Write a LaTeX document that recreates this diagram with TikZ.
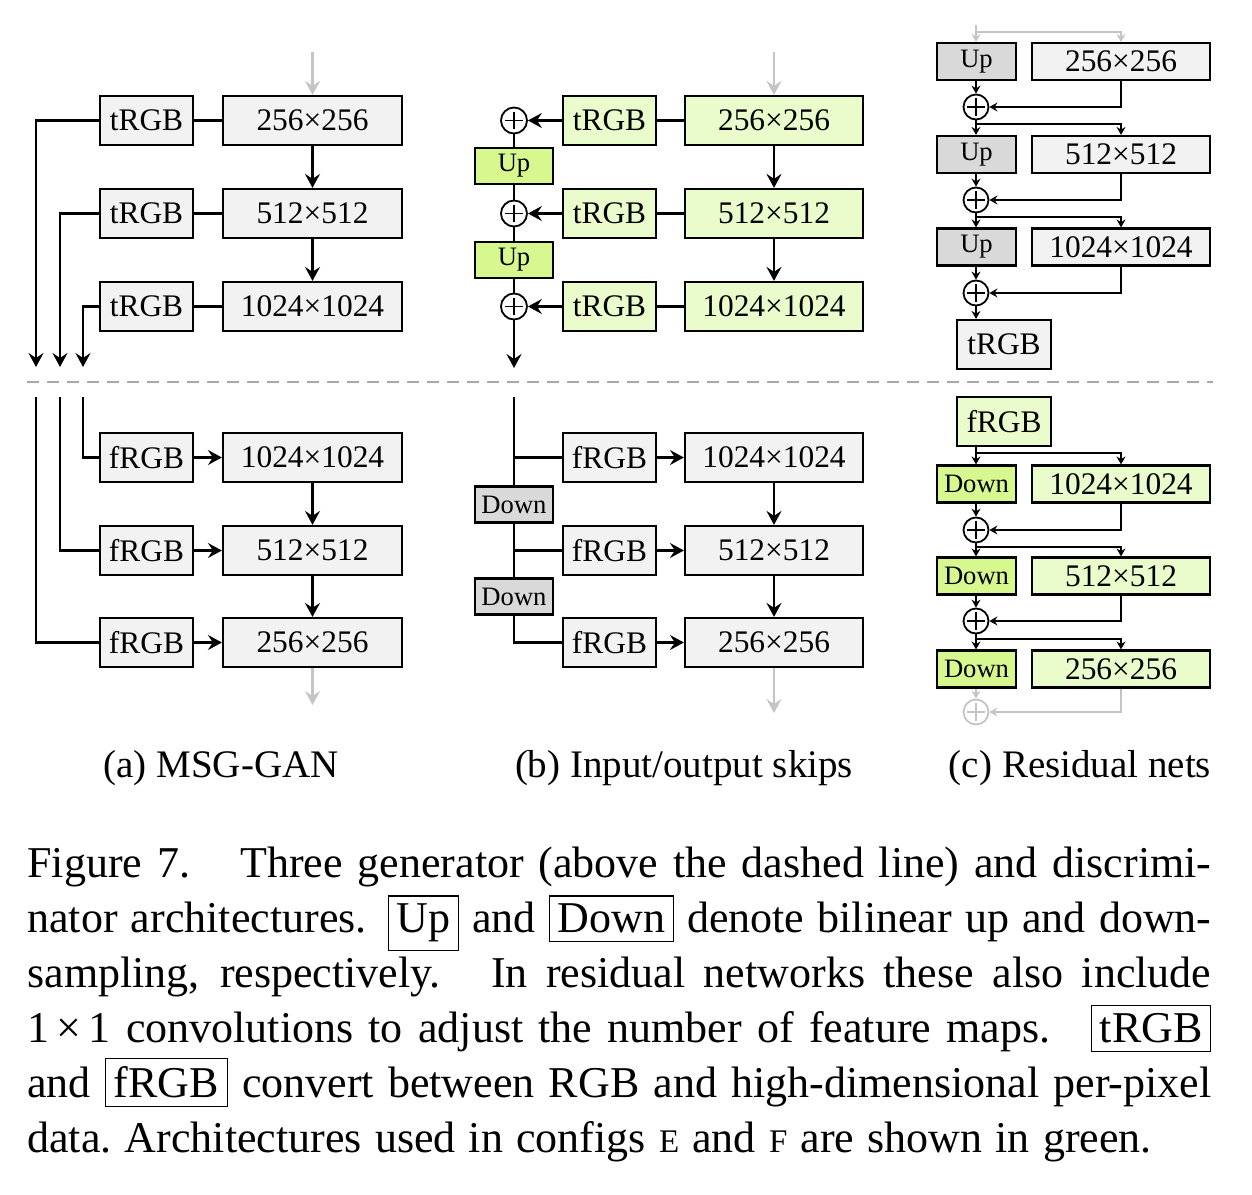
\documentclass[tikz,border=0pt]{standalone}
\usepackage{fontspec}
\setmainfont{Liberation Serif}
\usetikzlibrary{arrows.meta,calc}
\definecolor{lgray}{RGB}{242,242,242}
\definecolor{dgray}{RGB}{217,217,217}
\definecolor{lgreen}{RGB}{234,252,204}
\definecolor{dgreen}{RGB}{214,248,142}
\definecolor{tgray}{RGB}{196,196,196}
\definecolor{dashgray}{RGB}{168,168,168}
\begin{document}
\begin{tikzpicture}[x=0.5pt,y=-0.5pt,
  base/.style={draw, line width=1.1pt, inner sep=0pt, font=\fontsize{15.7}{18}\selectfont},
  bigbox/.style={base, minimum width=89.5pt, minimum height=24.5pt},
  rgbbox/.style={base, minimum width=46.5pt, minimum height=24.5pt},
  smallbox/.style={base, minimum width=39pt, minimum height=18pt, font=\fontsize{13.3}{15}\selectfont},
  cbig/.style={base, minimum width=89pt, minimum height=18.5pt},
  csmall/.style={base, minimum width=39.5pt, minimum height=18.5pt, font=\fontsize{13.3}{15}\selectfont},
  oplus/.style={circle, draw, line width=0.9pt, inner sep=0pt, minimum size=13pt, fill=white,
    path picture={\draw[line width=0.8pt]
      ([yshift=4.3pt]path picture bounding box.center) -- ([yshift=-4.3pt]path picture bounding box.center)
      ([xshift=-4.3pt]path picture bounding box.center) -- ([xshift=4.3pt]path picture bounding box.center);}},
  oplusc/.style={oplus, minimum size=12.5pt},
  ln/.style={line width=1.1pt},
  arr/.style={line width=1.1pt, -{Stealth[length=7pt,width=7.5pt,inset=2.5pt]}},
  garr/.style={arr, draw=tgray},
  sarr/.style={line width=1pt, -{Stealth[length=4pt,width=4.5pt,inset=1.4pt]}},
  gsarr/.style={sarr, draw=tgray},
  lg/.style={fill=lgray}, dg/.style={fill=dgray},
  lgr/.style={fill=lgreen}, dgr/.style={fill=dgreen},
  sub/.style={anchor=base, font=\fontsize{19.5}{22}\selectfont}
]
\useasboundingbox (0,0) rectangle (1252,1194);

% ---------------- (a) MSG-GAN, generator
\coordinate (aIn) at (312.5,52);
\node[rgbbox,lg] (at1) at (146.5,120.5) {tRGB};
\node[bigbox,lg] (ab1) at (312.5,120.5) {256×256};
\node[rgbbox,lg] (at2) at (146.5,213.5) {tRGB};
\node[bigbox,lg] (ab2) at (312.5,213.5) {512×512};
\node[rgbbox,lg] (at3) at (146.5,306.5) {tRGB};
\node[bigbox,lg] (ab3) at (312.5,306.5) {1024×1024};
\draw[garr] (aIn) -- (ab1.north);
\draw[arr] (ab1) -- (ab2);
\draw[arr] (ab2) -- (ab3);
\draw[ln] (at1) -- (ab1);
\draw[ln] (at2) -- (ab2);
\draw[ln] (at3) -- (ab3);
\coordinate (aE1) at (36,367);
\coordinate (aE2) at (60,367);
\coordinate (aE3) at (83,367);
\draw[arr] (at1.west) -| (aE1);
\draw[arr] (at2.west) -| (aE2);
\draw[arr] (at3.west) -| (aE3);

% ---------------- (a) discriminator
\coordinate (aS1) at (83,397);
\coordinate (aS2) at (60,397);
\coordinate (aS3) at (36,397);
\node[rgbbox,lg] (af1) at (146.5,457.5) {fRGB};
\node[bigbox,lg] (ac1) at (312.5,457.5) {1024×1024};
\node[rgbbox,lg] (af2) at (146.5,550.5) {fRGB};
\node[bigbox,lg] (ac2) at (312.5,550.5) {512×512};
\node[rgbbox,lg] (af3) at (146.5,642.5) {fRGB};
\node[bigbox,lg] (ac3) at (312.5,642.5) {256×256};
\draw[ln] (aS1) |- (af1.west);
\draw[ln] (aS2) |- (af2.west);
\draw[ln] (aS3) |- (af3.west);
\draw[arr] (af1) -- (ac1);
\draw[arr] (af2) -- (ac2);
\draw[arr] (af3) -- (ac3);
\draw[arr] (ac1) -- (ac2);
\draw[arr] (ac2) -- (ac3);
\coordinate (aOut) at (312.5,705);
\draw[garr] (ac3.south) -- (aOut);

% ---------------- (b) generator
\coordinate (bIn) at (774,52);
\node[rgbbox,lgr] (bt1) at (609.5,120.5) {tRGB};
\node[bigbox,lgr,minimum width=89pt] (bb1) at (774,120.5) {256×256};
\node[rgbbox,lgr] (bt2) at (609.5,213.5) {tRGB};
\node[bigbox,lgr,minimum width=89pt] (bb2) at (774,213.5) {512×512};
\node[rgbbox,lgr] (bt3) at (609.5,306.5) {tRGB};
\node[bigbox,lgr,minimum width=89pt] (bb3) at (774,306.5) {1024×1024};
\node[oplus] (bp1) at (514,120.5) {};
\node[oplus] (bp2) at (514,213.5) {};
\node[oplus] (bp3) at (514,306.5) {};
\node[smallbox,dgr] (bu1) at (514,166) {Up};
\node[smallbox,dgr] (bu2) at (514,260) {Up};
\draw[garr] (bIn) -- (bb1.north);
\draw[arr] (bb1) -- (bb2);
\draw[arr] (bb2) -- (bb3);
\draw[ln] (bt1) -- (bb1);
\draw[ln] (bt2) -- (bb2);
\draw[ln] (bt3) -- (bb3);
\draw[arr] (bt1) -- (bp1);
\draw[arr] (bt2) -- (bp2);
\draw[arr] (bt3) -- (bp3);
\draw[ln] (bp1) -- (bu1);
\draw[ln] (bu1) -- (bp2);
\draw[ln] (bp2) -- (bu2);
\draw[ln] (bu2) -- (bp3);
\coordinate (bOut) at (514,368);
\draw[arr] (bp3.south) -- (bOut);

% ---------------- (b) discriminator
\coordinate (bS) at (514,397);
\node[rgbbox,lg] (bf1) at (609.5,457.5) {fRGB};
\node[bigbox,lg,minimum width=89pt] (bc1) at (774,457.5) {1024×1024};
\node[rgbbox,lg] (bf2) at (609.5,550.5) {fRGB};
\node[bigbox,lg,minimum width=89pt] (bc2) at (774,550.5) {512×512};
\node[rgbbox,lg] (bf3) at (609.5,642.5) {fRGB};
\node[bigbox,lg,minimum width=89pt] (bc3) at (774,642.5) {256×256};
\node[smallbox,dg] (bd1) at (514,504.5) {Down};
\node[smallbox,dg] (bd2) at (514,596.5) {Down};
\draw[ln] (bS) -- (bd1.north);
\draw[ln] (bd1) -- (bd2);
\draw[ln] (bd2.south) |- (bf3.west);
\draw[ln] (bf1.west -| bS) -- (bf1.west);
\draw[ln] (bf2.west -| bS) -- (bf2.west);
\draw[arr] (bf1) -- (bc1);
\draw[arr] (bf2) -- (bc2);
\draw[arr] (bf3) -- (bc3);
\draw[arr] (bc1) -- (bc2);
\draw[arr] (bc2) -- (bc3);
\coordinate (bOut2) at (774,713);
\draw[garr] (bc3.south) -- (bOut2);

% ---------------- (c) generator
\node[csmall,dg] (cu1) at (976.5,61.5) {Up};
\node[cbig,lg] (cb1) at (1121,61.5) {256×256};
\node[oplusc] (cp1) at (976,107) {};
\node[csmall,dg] (cu2) at (976.5,154.5) {Up};
\node[cbig,lg] (cb2) at (1121,154.5) {512×512};
\node[oplusc] (cp2) at (976,200) {};
\node[csmall,dg] (cu3) at (976.5,247) {Up};
\node[cbig,lg] (cb3) at (1121,247) {1024×1024};
\node[oplusc] (cp3) at (976,293) {};
\node[rgbbox,lg,minimum width=47pt] (ct) at (1004,344.5) {tRGB};
\coordinate (cTop) at (976,25);
\coordinate (cBr0) at (976,32);
\coordinate (cBr1) at (976,124);
\coordinate (cBr2) at (976,217);
\draw[gsarr] (cTop) -- (cu1.north -| cTop);
\draw[gsarr] (cBr0) -| (cb1.north);
\draw[sarr] (cu1.south -| cp1) -- (cp1.north);
\draw[sarr] (cb1.south) |- (cp1.east);
\draw[sarr] (cp1.south) -- (cu2.north -| cp1);
\draw[sarr] (cBr1) -| (cb2.north);
\draw[sarr] (cu2.south -| cp2) -- (cp2.north);
\draw[sarr] (cb2.south) |- (cp2.east);
\draw[sarr] (cp2.south) -- (cu3.north -| cp2);
\draw[sarr] (cBr2) -| (cb3.north);
\draw[sarr] (cu3.south -| cp3) -- (cp3.north);
\draw[sarr] (cb3.south) |- (cp3.east);
\draw[sarr] (cp3.south) -- (ct.north -| cp3);

% ---------------- (c) discriminator
\node[rgbbox,lgr,minimum width=47pt] (cf) at (1004,421.5) {fRGB};
\node[csmall,dgr] (cd1) at (976.5,484) {Down};
\node[cbig,lgr] (cD1) at (1121,484) {1024×1024};
\node[oplusc] (cq1) at (976,530) {};
\node[csmall,dgr] (cd2) at (976.5,576) {Down};
\node[cbig,lgr] (cD2) at (1121,576) {512×512};
\node[oplusc] (cq2) at (976,621) {};
\node[csmall,dgr] (cd3) at (976.5,669) {Down};
\node[cbig,lgr] (cD3) at (1121,669) {256×256};
\node[oplusc, draw=tgray, path picture={\draw[line width=0.8pt,tgray]
      ([yshift=4.3pt]path picture bounding box.center) -- ([yshift=-4.3pt]path picture bounding box.center)
      ([xshift=-4.3pt]path picture bounding box.center) -- ([xshift=4.3pt]path picture bounding box.center);}] (cq3) at (976,712) {};
\coordinate (cdBr0) at (976,453);
\coordinate (cdBr1) at (976,547);
\coordinate (cdBr2) at (976,639);
\draw[sarr] (cf.south -| cdBr0) -- (cd1.north -| cdBr0);
\draw[sarr] (cdBr0) -| (cD1.north);
\draw[sarr] (cd1.south -| cq1) -- (cq1.north);
\draw[sarr] (cD1.south) |- (cq1.east);
\draw[sarr] (cq1.south) -- (cd2.north -| cq1);
\draw[sarr] (cdBr1) -| (cD2.north);
\draw[sarr] (cd2.south -| cq2) -- (cq2.north);
\draw[sarr] (cD2.south) |- (cq2.east);
\draw[sarr] (cq2.south) -- (cd3.north -| cq2);
\draw[sarr] (cdBr2) -| (cD3.north);
\draw[gsarr] (cd3.south -| cq3) -- (cq3.north);
\draw[gsarr] (cD3.south) |- (cq3.east);

% ---------------- dashed separator
\coordinate (dL) at (27,382);
\coordinate (dR) at (1213,382);
\draw[dashgray, line width=1pt, dash pattern=on 6pt off 4pt] (dL) -- (dR);

% ---------------- sub-captions
\node[sub] (capa) at (221,777) {(a) MSG-GAN};
\node[sub] (capb) at (684,777) {(b) Input/output skips};
\node[sub] (capc) at (1080,777) {(c) Residual nets};

% ---------------- caption
\node[anchor=north west, inner sep=0pt, text width=592pt, align=justify,
      font=\fontsize{22}{27.5}\selectfont] (cap) at (27,847)
{\setlength{\fboxsep}{3.8pt}\setlength{\fboxrule}{0.6pt}\tolerance=9999\emergencystretch=3em
Figure 7.\hspace{0.55em} Three generator (above the dashed line) and discrimi-\linebreak nator architectures. \fbox{Up} and \fbox{Down} denote bilinear up and down-\linebreak sampling, respectively.\hspace{0.3em} In residual networks these also include\linebreak 1\,×\,1 convolutions to adjust the number of feature maps.\hspace{0.3em} \fbox{tRGB}\linebreak and \fbox{fRGB} convert between RGB and high-dimensional per-pixel\linebreak \spaceskip=6.6pt plus 2pt minus 1pt\xspaceskip=6.6pt plus 2pt minus 1pt data. Architectures used in configs {\fontsize{16.5}{20}\selectfont E} and {\fontsize{16.5}{20}\selectfont F} are shown in green.};
\end{tikzpicture}
\end{document}
